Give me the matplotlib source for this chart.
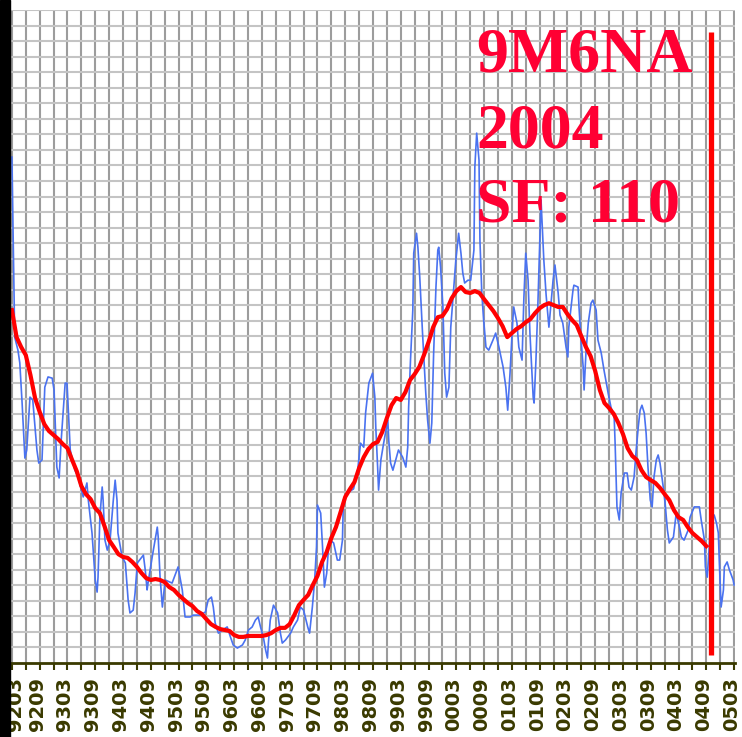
import matplotlib
matplotlib.use("Agg")
import matplotlib.pyplot as plt
import matplotlib.transforms as mtransforms
from matplotlib.patches import Rectangle

# Months counted from 1992-03 (0) to 2005-03 (156)
tick_labels = ['9203', '9209', '9303', '9309', '9403', '9409', '9503', '9509',
               '9603', '9609', '9703', '9709', '9803', '9809', '9903', '9909',
               '0003', '0009', '0103', '0109', '0203', '0209', '0303', '0309',
               '0403', '0409', '0503']

blue_month = [0.0, 0.6, 1.3, 1.7, 2.2, 2.8, 3.2, 3.9, 4.5, 5.4, 5.8, 6.5, 7.1, 7.8, 8.7, 9.1,
              9.7, 10.2, 10.6, 11.5, 11.9, 12.6, 13.6, 14.3, 15.4, 16.2, 16.5, 17.3, 18.0, 18.4,
              18.6, 19.0, 19.5, 19.7, 20.1, 20.6, 21.2, 21.9, 22.3, 22.7, 22.9, 23.8, 24.5, 25.1,
              25.5, 26.2, 26.6, 27.1, 28.4, 28.8, 29.2, 29.4, 30.3, 31.4, 31.6, 32.0, 32.5, 33.1,
              34.6, 35.9, 36.8, 37.4, 38.5, 39.2, 40.7, 41.8, 42.4, 43.1, 43.5, 43.9, 44.6, 45.5,
              46.5, 47.2, 47.8, 48.7, 49.8, 50.4, 51.1, 51.9, 52.6, 53.2, 53.7, 54.3, 54.8, 55.2,
              55.4, 55.8, 56.5, 57.4, 58.0, 58.4, 59.1, 60.2, 60.8, 61.7, 62.3, 63.0, 63.9, 64.3,
              64.9, 65.4, 65.8, 66.0, 66.7, 67.1, 67.5, 68.0, 68.4, 68.8, 69.5, 70.3, 70.8, 71.4,
              71.6, 72.5, 73.8, 74.7, 75.3, 76.0, 76.4, 77.1, 77.9, 78.4, 78.6, 79.0, 79.2, 79.7,
              80.3, 81.2, 81.4, 81.8, 82.3, 82.9, 83.5, 84.4, 85.1, 85.5, 85.7, 86.1, 86.6, 86.8,
              87.4, 87.7, 88.1, 88.7, 89.4, 89.8, 90.3, 90.7, 91.1, 91.6, 92.0, 92.2, 92.6, 93.1,
              93.5, 93.9, 94.4, 94.8, 95.9, 96.5, 97.0, 97.4, 97.8, 98.5, 99.1, 99.8, 100.0, 100.4,
              100.9, 101.1, 101.5, 101.9, 102.4, 103.0, 103.9, 104.5, 105.2, 106.1, 106.7, 107.1,
              107.6, 108.2, 108.4, 109.1, 109.5, 110.2, 110.6, 111.0, 111.5, 111.9, 112.6, 112.8,
              113.2, 113.6, 114.3, 114.9, 115.4, 116.0, 116.9, 117.3, 118.0, 118.4, 119.0, 119.7,
              120.1, 120.3, 121.2, 121.4, 122.3, 122.5, 122.9, 123.4, 123.6, 124.0, 124.5, 125.1,
              125.5, 126.2, 126.6, 127.3, 127.9, 128.8, 129.4, 130.1, 130.3, 130.7, 131.2, 131.6,
              132.3, 132.9, 133.3, 133.8, 134.4, 134.8, 135.3, 135.7, 136.1, 136.6, 137.0, 137.4,
              137.9, 138.3, 138.7, 139.2, 139.6, 140.0, 140.7, 141.1, 141.6, 142.0, 142.9, 143.5,
              144.2, 144.6, 145.2, 146.1, 146.5, 147.4, 148.5, 148.9, 149.6, 149.8, 150.2, 150.6,
              150.9, 151.7, 152.2, 152.6, 152.8, 153.2, 153.7, 153.9, 154.5, 155.0, 155.8, 156.0]
blue_flux = [222.7, 164.8, 160.6, 156.5, 143.6, 125.9, 128.5, 145.5, 144.6, 128.5, 124.3, 125.3,
             148.7, 152.0, 151.6, 147.8, 123.0, 119.5, 130.7, 150.0, 150.0, 128.5, 122.0, 119.8,
             113.4, 117.9, 112.4, 101.8, 86.7, 82.8, 87.6, 106.9, 116.6, 112.4, 99.5, 96.3, 99.5,
             112.4, 118.8, 112.4, 101.8, 94.1, 92.2, 80.3, 76.1, 77.0, 82.5, 92.2, 94.7, 89.9,
             83.5, 85.7, 94.1, 103.7, 100.5, 87.6, 78.0, 86.7, 85.7, 90.9, 83.5, 74.8, 74.8, 75.4,
             75.4, 76.4, 80.3, 81.2, 78.0, 72.9, 69.6, 70.6, 71.6, 68.4, 65.8, 64.8, 65.8, 67.4,
             70.6, 71.6, 73.8, 74.8, 71.6, 68.4, 64.2, 61.6, 66.4, 73.8, 78.6, 76.1, 69.6, 66.4,
             67.4, 69.6, 71.6, 73.8, 78.0, 77.0, 71.6, 69.6, 78.0, 86.7, 97.3, 110.8, 108.2, 97.3,
             84.4, 88.9, 97.3, 99.5, 98.6, 93.1, 93.1, 99.5, 112.4, 114.7, 116.0, 122.0, 130.7,
             129.4, 140.4, 150.0, 153.2, 145.5, 135.9, 123.0, 115.6, 125.3, 130.7, 138.1, 131.7,
             124.3, 122.0, 125.3, 128.5, 126.2, 123.0, 129.4, 142.3, 157.4, 173.5, 191.8, 198.2,
             193.7, 184.1, 166.1, 146.8, 138.1, 130.7, 137.2, 159.7, 180.9, 192.8, 193.7, 187.3,
             174.5, 153.2, 145.5, 148.7, 168.0, 189.6, 198.2, 191.8, 185.4, 182.2, 183.1, 183.1,
             192.8, 219.5, 230.4, 221.7, 196.0, 179.0, 170.3, 161.6, 160.6, 163.8, 166.1, 161.6,
             155.2, 148.7, 141.3, 153.2, 170.3, 174.5, 169.3, 161.6, 157.4, 177.7, 191.8, 183.1,
             166.1, 145.5, 143.6, 157.4, 174.5, 208.9, 189.6, 178.3, 168.0, 183.1, 188.0, 179.0,
             171.9, 169.3, 161.6, 158.4, 168.0, 179.9, 181.5, 180.9, 174.5, 164.8, 155.2, 147.8,
             159.7, 169.3, 175.7, 176.7, 173.5, 163.8, 159.7, 154.2, 146.8, 142.3, 139.1, 130.7,
             110.2, 106.0, 114.7, 121.1, 121.1, 116.6, 115.6, 119.8, 127.5, 135.9, 141.3, 142.9,
             140.4, 133.9, 123.0, 112.4, 110.2, 119.8, 125.3, 126.9, 124.3, 116.6, 111.4, 102.8,
             98.6, 100.5, 108.2, 103.7, 100.5, 99.5, 102.8, 106.9, 110.2, 110.2, 106.0, 99.5, 90.9,
             87.6, 96.3, 106.9, 107.6, 105.0, 101.8, 93.1, 78.0, 83.5, 90.9, 92.5, 89.9, 86.7, 85.1]

# Smoothed solar flux (red), one value per month from 9203 (0) to 0409 (150)
red_flux = [173.5, 164.8, 161.6, 159.0, 152.6, 145.2, 140.7, 136.8, 134.6, 133.3, 132.0, 130.4,
            129.1, 125.3, 121.7, 116.9, 114.3, 112.7, 109.8, 108.2, 104.0, 99.5, 97.3, 95.0,
            94.1, 93.8, 92.5, 90.9, 88.9, 87.3, 86.7, 87.0, 86.7, 86.0, 84.4, 83.5, 81.9, 80.6,
            79.3, 78.3, 76.7, 75.8, 74.1, 72.5, 71.6, 70.9, 70.6, 70.3, 69.0, 68.4, 68.4, 68.7,
            68.7, 68.7, 68.7, 69.0, 69.6, 70.6, 71.3, 71.3, 72.5, 75.4, 78.6, 80.3, 81.9, 85.1,
            88.0, 92.5, 95.7, 100.2, 103.7, 108.5, 113.4, 115.9, 118.2, 122.7, 126.2, 128.8,
            130.4, 131.1, 134.3, 138.8, 142.9, 145.2, 144.6, 147.1, 151.0, 152.9, 155.2, 159.0,
            163.2, 168.0, 171.2, 171.6, 173.8, 177.3, 179.6, 180.9, 179.3, 179.0, 179.6, 179.0,
            177.0, 175.1, 173.2, 170.9, 168.3, 164.8, 166.1, 167.4, 168.3, 169.6, 170.6, 172.5,
            174.1, 175.1, 175.7, 175.1, 174.5, 174.5, 172.2, 170.3, 168.7, 165.1, 161.6, 158.7,
            153.9, 147.8, 143.6, 142.0, 140.1, 137.2, 133.6, 129.1, 126.6, 125.3, 122.0, 119.8,
            118.8, 117.9, 116.3, 114.3, 112.4, 109.2, 106.9, 106.0, 103.7, 101.8, 100.5, 99.2,
            97.6]

marker_month = 151          # 2004-10 marker
title_lines = ['9M6NA', '2004', 'SF: 110']

W, H = 742, 737
fig = plt.figure(figsize=(W / 100, H / 100), dpi=100)
fig.patch.set_facecolor('white')
ax = fig.add_axes([11 / W, (H - 663) / H, 724 / W, 653 / H])

olive = '#3a3a00'
ax.set_xlim(-0.2, 156.2)
ax.set_ylim(60, 270)

# grid
for m in range(0, 157, 3):
    ax.axvline(m, color='#9c9c9c', lw=1.5, zorder=0)
for v in range(65, 271, 5):
    ax.axhline(v, color='#c4c4c4', lw=1.5, zorder=0)

ax.plot(blue_month, blue_flux, color='#4a72f0', lw=1.2, zorder=2, clip_on=True)
ax.plot(range(len(red_flux)), red_flux, color='#ff0000', lw=3.0, zorder=3,
        solid_joinstyle='round')
ax.vlines(marker_month, 62.6, 263, color='#ff0000', lw=3.8, zorder=4)

ax.set_xticks(range(0, 157, 3), minor=False)
ax.set_xticklabels([tick_labels[i // 2] if i % 2 == 0 else '' for i in range(53)],
                   rotation=90, fontsize=14, fontweight='bold', color=olive,
                   family='DejaVu Sans')
ax.tick_params(axis='x', direction='out', length=5, width=1.5, color=olive, pad=5)
ax.set_yticks([])
for s in ['top', 'right', 'left']:
    ax.spines[s].set_visible(False)
ax.spines['bottom'].set_color(olive)
ax.spines['bottom'].set_linewidth(2)

# nudge labels: slight left shift, first one pushed right of the black bar
labels = ax.get_xticklabels()
for i, lab in enumerate(labels):
    dx = 4 if i == 0 else -2.5
    lab.set_transform(lab.get_transform() +
                      mtransforms.ScaledTranslation(dx / 100, 0, fig.dpi_scale_trans))

# black bar at the left edge
fig.patches.append(Rectangle((0, 0), 10 / W, 1, transform=fig.transFigure,
                             color='black', zorder=10))

baselines = [72, 147, 222]
for txt, yb in zip(title_lines, baselines):
    fig.text(476 / W, 1 - yb / H, txt, color='#ff0033', fontsize=46,
             fontweight='bold', family='Liberation Serif', va='baseline', ha='left',
             zorder=20)

fig.savefig('out.png', dpi=100)
